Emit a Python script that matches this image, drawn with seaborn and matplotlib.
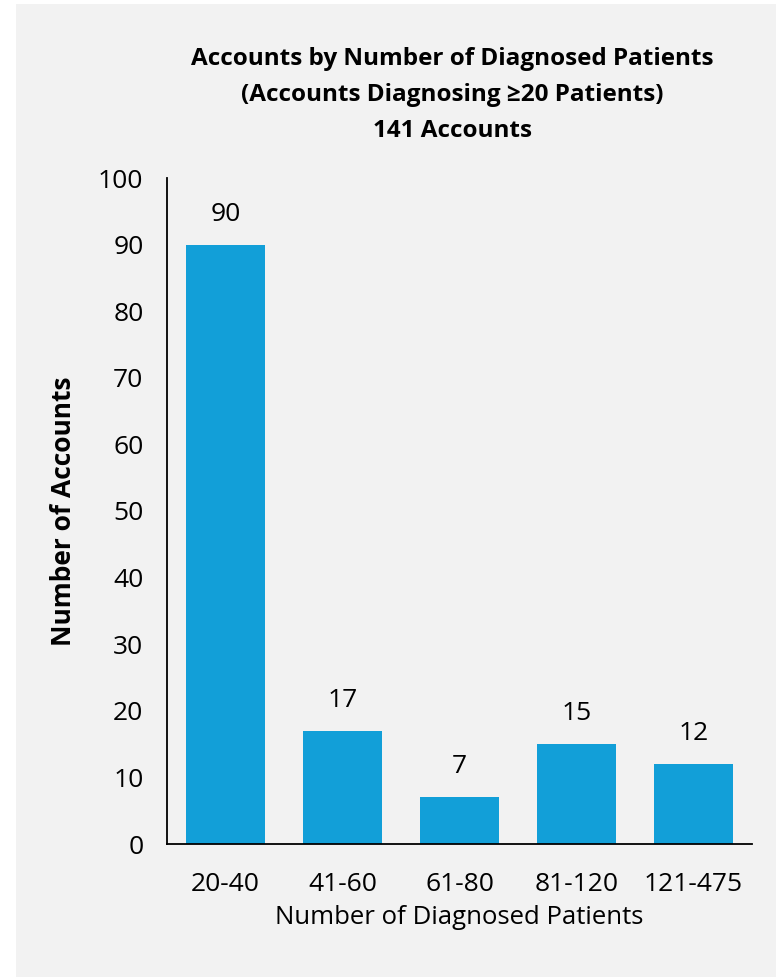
import matplotlib
matplotlib.use("Agg")
import matplotlib.pyplot as plt
import seaborn as sns
import pandas as pd
from matplotlib.patches import Rectangle

categories = ["20-40", "41-60", "61-80", "81-120", "121-475"]
accounts = [90, 17, 7, 15, 12]
y_ticks = [0, 10, 20, 30, 40, 50, 60, 70, 80, 90, 100]

title = "Accounts by Number of Diagnosed Patients\n(Accounts Diagnosing \u226520 Patients)\n141 Accounts"
xlabel = "Number of Diagnosed Patients"
ylabel = "Number of Accounts"

sns.set_theme(style="white")
plt.rcParams['font.family'] = ['Open Sans', 'DejaVu Sans']

df = pd.DataFrame({"cat": categories, "val": accounts})

W, H = 776, 977
fig = plt.figure(figsize=(W / 100, H / 100), dpi=100)
fig.patch.set_facecolor("white")
fig.patches.append(Rectangle((16 / W, 0), 1 - 16 / W, 1 - 4 / H, transform=fig.transFigure,
                             facecolor="#F2F2F2", edgecolor="none", zorder=-10))

ax = fig.add_axes([167 / W, 1 - 844 / H, (752 - 167) / W, (844 - 178) / H])
ax.set_facecolor("none")
sns.barplot(data=df, x="cat", y="val", color="#129FD8", saturation=1, width=0.667,
            linewidth=0, ax=ax)

ax.set_ylim(0, 100)
ax.set_xlim(-0.5, 4.5)
ax.set_yticks(y_ticks)
ax.tick_params(axis="both", length=0, labelsize=19, colors="black")
ax.tick_params(axis="y", pad=17)
ax.tick_params(axis="x", pad=20)

for s in ["top", "right"]:
    ax.spines[s].set_visible(False)
for s in ["left", "bottom"]:
    ax.spines[s].set_color("black")
    ax.spines[s].set_linewidth(1.3)

for i, v in enumerate(accounts):
    ax.annotate(str(v), (i, v), xytext=(0, 13), textcoords="offset points",
                ha="center", va="bottom", fontsize=19, color="black")

ax.set_xlabel(xlabel, fontsize=18.5, color="black", labelpad=6)
ax.set_ylabel(ylabel, fontsize=19, fontweight="bold", color="black", labelpad=15)

fig.text(452 / W, 1 - 95 / H, title, ha="center", va="center", fontsize=17.5,
         fontweight="bold", linespacing=1.68, color="black")

fig.savefig("out.png", dpi=100)
